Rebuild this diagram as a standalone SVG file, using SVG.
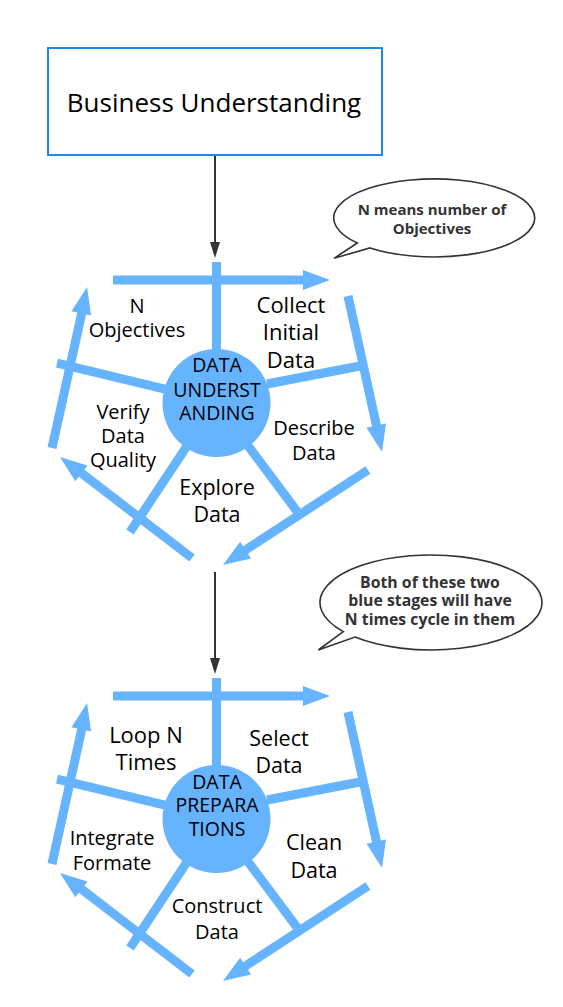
<svg xmlns="http://www.w3.org/2000/svg" width="563" height="1007" viewBox="0 0 563 1007">
<style>
.bar{stroke:#66b3ff;stroke-width:9;fill:none;stroke-linecap:butt}
.head{fill:#66b3ff;stroke:none}
.hub{fill:#66b3ff}
.lbl{font-family:"Open Sans","Noto Sans","DejaVu Sans",sans-serif;fill:#000;text-anchor:middle}
.hubt{font-family:"Open Sans","Noto Sans","DejaVu Sans",sans-serif;fill:#000;text-anchor:middle;font-size:19.5px}
.note{font-family:"Open Sans","Noto Sans","DejaVu Sans",sans-serif;font-weight:bold;fill:#333;text-anchor:middle}
.bubble{fill:#fff;stroke:#333;stroke-width:1.6}
.flow{stroke:#333;stroke-width:2;fill:none}
</style>
<rect width="563" height="1007" fill="#fff"/>

<g id="connectors">
  <line class="flow" x1="215" y1="156" x2="215" y2="244"/>
  <polygon points="215,258 210,242 220,242" fill="#333"/>
  <line class="flow" x1="215" y1="572" x2="215" y2="660"/>
  <polygon points="215,674 210,658 220,658" fill="#333"/>

  <g id="cycle-understanding">
    <line class="bar" x1="216.5" y1="262" x2="216.5" y2="352"/>
    <line class="bar" x1="113" y1="280" x2="305" y2="280"/>
    <polygon class="head" points="330,280 303,270 303,290"/>
    <line class="bar" x1="348" y1="296" x2="377" y2="428"/>
    <polygon class="head" points="382,452 366.5,427.7 386,423.5"/>
    <line class="bar" x1="368" y1="470" x2="244" y2="551"/>
    <polygon class="head" points="223,565 240.1,541.8 251.1,558.6"/>
    <line class="bar" x1="192" y1="558" x2="80" y2="472"/>
    <polygon class="head" points="60,457 87.5,465.5 75.3,481.3"/>
    <line class="bar" x1="52" y1="448" x2="82" y2="312"/>
    <polygon class="head" points="87,287 91.1,315.5 71.5,311.3"/>
    <line class="bar" x1="57" y1="363" x2="165" y2="389"/>
    <line class="bar" x1="360" y1="366" x2="267" y2="384"/>
    <line class="bar" x1="130" y1="532" x2="189" y2="443"/>
    <line class="bar" x1="302" y1="518" x2="246" y2="443"/>
  </g>

  <g id="cycle-preparation">
    <line class="bar" x1="216.5" y1="678" x2="216.5" y2="768"/>
    <line class="bar" x1="113" y1="696" x2="305" y2="696"/>
    <polygon class="head" points="330,696 303,686 303,706"/>
    <line class="bar" x1="348" y1="712" x2="377" y2="844"/>
    <polygon class="head" points="382,868 366.5,843.7 386,839.5"/>
    <line class="bar" x1="368" y1="886" x2="244" y2="967"/>
    <polygon class="head" points="223,981 240.1,957.8 251.1,974.6"/>
    <line class="bar" x1="192" y1="974" x2="80" y2="888"/>
    <polygon class="head" points="60,873 87.5,881.5 75.3,897.3"/>
    <line class="bar" x1="52" y1="864" x2="82" y2="728"/>
    <polygon class="head" points="87,703 91.1,731.5 71.5,727.3"/>
    <line class="bar" x1="57" y1="779" x2="165" y2="805"/>
    <line class="bar" x1="360" y1="782" x2="267" y2="800"/>
    <line class="bar" x1="130" y1="948" x2="189" y2="859"/>
    <line class="bar" x1="302" y1="934" x2="246" y2="859"/>
  </g>
</g>

<g id="business-understanding">
  <rect x="48" y="48" width="334" height="107" fill="#fff" stroke="#1e88e5" stroke-width="2"/>
  <text class="lbl" x="214" y="112" font-size="26">Business Understanding</text>
</g>

<g id="note-objectives">
  <path class="bubble" d="M357.3,243 A100.5,39 0 1 1 370,247.9 L334,258.3 Z"/>
  <text class="note" x="432" y="214.5" font-size="15">N means number of</text>
  <text class="note" x="432" y="233.5" font-size="15">Objectives</text>
</g>

<g id="note-cycles">
  <path class="bubble" d="M343.3,631.6 A111,47.5 0 1 1 355,637.1 L318.3,650 Z"/>
  <text class="note" x="430" y="587.5" font-size="15.8">Both of these two</text>
  <text class="note" x="430" y="606" font-size="15.8">blue stages will have</text>
  <text class="note" x="430" y="625" font-size="15.8">N times cycle in them</text>
</g>

<g id="data-understanding">
  <circle class="hub" cx="216.5" cy="403" r="54"/>
  <text class="hubt" x="217" y="372">DATA</text>
  <text class="hubt" x="217" y="396.5">UNDERST</text>
  <text class="hubt" x="217" y="420">ANDING</text>
</g>

<g id="label-n-objectives">
  <text class="lbl" x="137" y="312.5" font-size="20">N</text>
  <text class="lbl" x="137" y="336.5" font-size="20">Objectives</text>
</g>
<g id="label-collect">
  <text class="lbl" x="291" y="312.5" font-size="22">Collect</text>
  <text class="lbl" x="291" y="340" font-size="22">Initial</text>
  <text class="lbl" x="291" y="367.5" font-size="22">Data</text>
</g>
<g id="label-describe">
  <text class="lbl" x="314" y="435" font-size="20">Describe</text>
  <text class="lbl" x="314" y="459.5" font-size="20">Data</text>
</g>
<g id="label-explore">
  <text class="lbl" x="217" y="495" font-size="21.5">Explore</text>
  <text class="lbl" x="217" y="521.5" font-size="21.5">Data</text>
</g>
<g id="label-verify">
  <text class="lbl" x="123" y="418.5" font-size="20">Verify</text>
  <text class="lbl" x="123" y="442.5" font-size="20">Data</text>
  <text class="lbl" x="123" y="466.5" font-size="20">Quality</text>
</g>

<g id="data-preparations">
  <circle class="hub" cx="216.5" cy="819" r="54"/>
  <text class="hubt" x="217" y="788.5">DATA</text>
  <text class="hubt" x="217" y="812">PREPARA</text>
  <text class="hubt" x="217" y="835.5">TIONS</text>
</g>

<g id="label-loop">
  <text class="lbl" x="146" y="743" font-size="22">Loop N</text>
  <text class="lbl" x="146" y="770" font-size="22">Times</text>
</g>
<g id="label-select">
  <text class="lbl" x="279" y="746" font-size="21.5">Select</text>
  <text class="lbl" x="279" y="773" font-size="21.5">Data</text>
</g>
<g id="label-clean">
  <text class="lbl" x="314" y="850" font-size="21.5">Clean</text>
  <text class="lbl" x="314" y="877.5" font-size="21.5">Data</text>
</g>
<g id="label-construct">
  <text class="lbl" x="217" y="913" font-size="20">Construct</text>
  <text class="lbl" x="217" y="938.5" font-size="20">Data</text>
</g>
<g id="label-integrate">
  <text class="lbl" x="112" y="845" font-size="20">Integrate</text>
  <text class="lbl" x="112" y="869.5" font-size="20">Formate</text>
</g>
</svg>
